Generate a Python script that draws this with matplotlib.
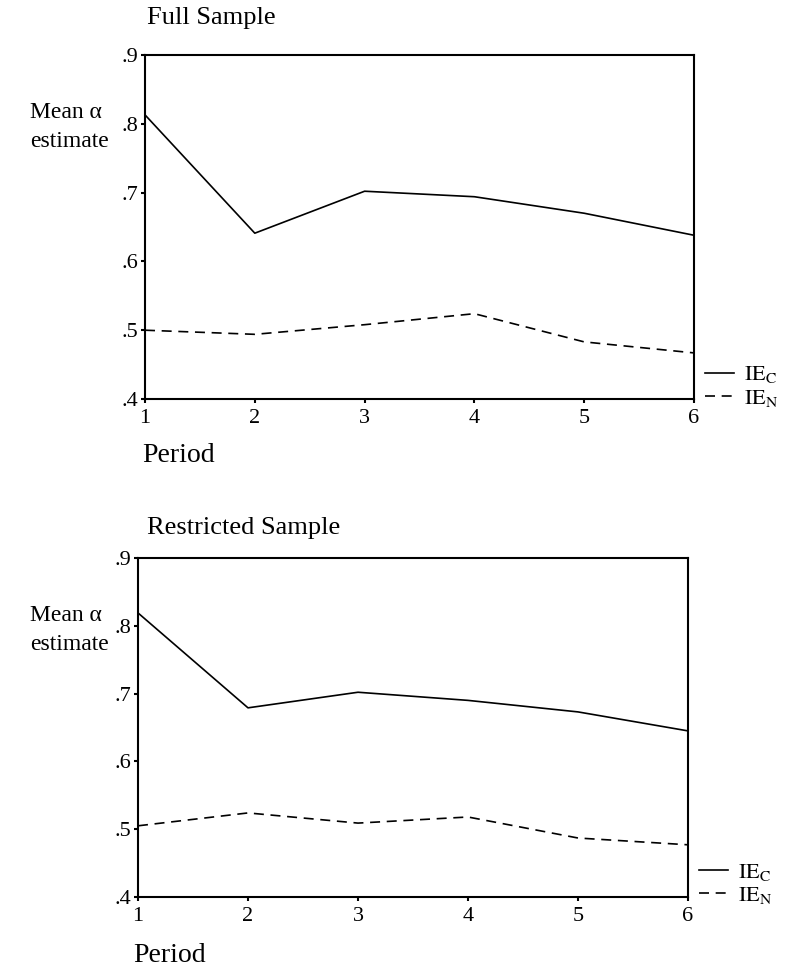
import matplotlib
matplotlib.use('Agg')
import matplotlib.pyplot as plt

plt.rcParams['font.family'] = ['Liberation Serif', 'DejaVu Serif']
plt.rcParams['mathtext.fontset'] = 'stix'

# data
periods = [1, 2, 3, 4, 5, 6]
full_ie_c = [0.813, 0.641, 0.702, 0.694, 0.670, 0.638]
full_ie_n = [0.500, 0.494, 0.508, 0.524, 0.483, 0.467]
restr_ie_c = [0.819, 0.679, 0.702, 0.690, 0.673, 0.645]
restr_ie_n = [0.505, 0.524, 0.509, 0.518, 0.487, 0.477]

y_ticks = [0.4, 0.5, 0.6, 0.7, 0.8, 0.9]
y_tick_labels = ['.4', '.5', '.6', '.7', '.8', '.9']
series_labels = [r'$\mathrm{IE_C}$', r'$\mathrm{IE_N}$']
titles = ['Full Sample', 'Restricted Sample']

W, H = 806, 973
fig = plt.figure(figsize=(W / 100, H / 100), dpi=100)


def px_box(left, top, right, bottom):
    # convert pixel box to figure fraction
    return [left / W, 1 - bottom / H, (right - left) / W, (bottom - top) / H]


panels = [
    (px_box(145, 55, 694, 399), full_ie_c, full_ie_n),
    (px_box(138, 558, 688, 897), restr_ie_c, restr_ie_n),
]

for box, ie_c, ie_n in panels:
    ax = fig.add_axes(box)
    ax.plot(periods, ie_c, color='black', lw=1.2, label=series_labels[0])
    ax.plot(periods, ie_n, color='black', lw=1.2, dashes=(6, 4),
            label=series_labels[1])
    ax.set_xlim(1, 6)
    ax.set_ylim(0.4, 0.9)
    ax.set_xticks(periods)
    ax.set_yticks(y_ticks)
    ax.set_yticklabels(y_tick_labels)
    ax.tick_params(direction='out', length=3, width=1.5, labelsize=16,
                   pad=2)
    ax.tick_params(axis='x', pad=4)
    for sp in ax.spines.values():
        sp.set_linewidth(1.5)
    ax.legend(loc='lower left', bbox_to_anchor=(1.0, -0.06), frameon=False,
              handlelength=1.3, handletextpad=0.45, borderaxespad=0.1,
              labelspacing=0.1, fontsize=16)

# titles, axis labels
fig.text(147 / W, 1 - 18 / H, titles[0], fontsize=19, va='center', ha='left')
fig.text(147 / W, 1 - 528 / H, titles[1], fontsize=19, va='center', ha='left')

fig.text(30 / W, 1 - 127 / H, 'Mean α\nestimate', fontsize=17,
         va='center', ha='left', linespacing=1.5)
fig.text(30 / W, 1 - 630 / H, 'Mean α\nestimate', fontsize=17,
         va='center', ha='left', linespacing=1.5)

fig.text(142 / W, 1 - 455 / H, 'Period', fontsize=20, va='center', ha='left')
fig.text(133 / W, 1 - 955 / H, 'Period', fontsize=20, va='center', ha='left')

fig.savefig('out.png', dpi=100)
